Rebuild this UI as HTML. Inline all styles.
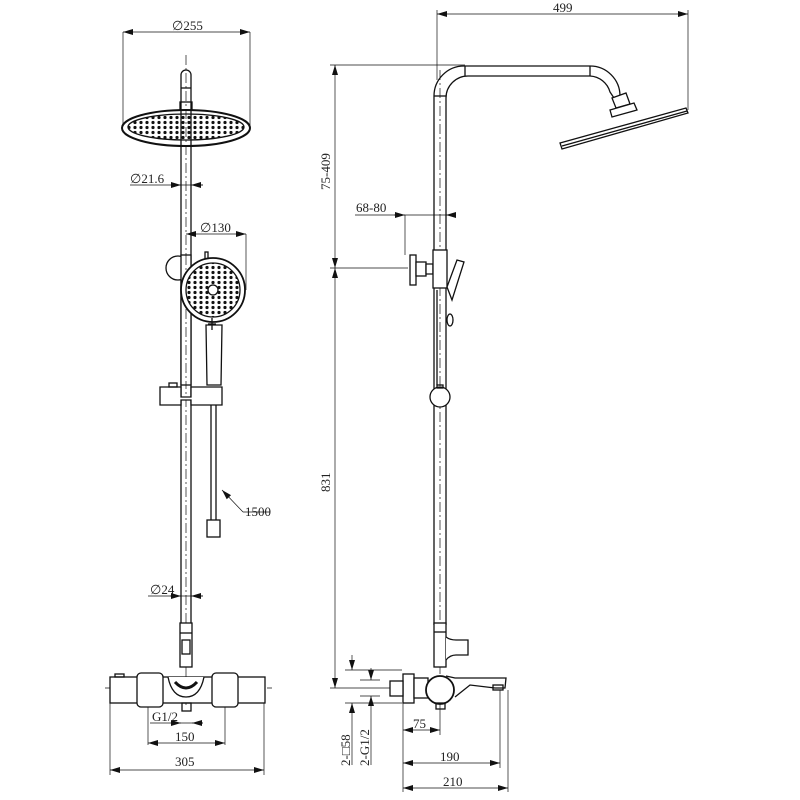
<!DOCTYPE html>
<html><head><meta charset="utf-8"><style>
html,body{margin:0;padding:0;background:#fff}
svg{display:block}
text{font-family:"Liberation Serif",serif;font-size:13px;fill:#222}
</style></head><body>
<svg width="800" height="800" viewBox="0 0 800 800" xmlns="http://www.w3.org/2000/svg">
<defs>
<marker id="a" viewBox="0 0 10 6" refX="10" refY="3" markerWidth="10" markerHeight="6" orient="auto-start-reverse" markerUnits="userSpaceOnUse"><path d="M0,0L10,3L0,6z" fill="#111"/></marker>
<pattern id="dots" width="6" height="5" patternUnits="userSpaceOnUse"><circle cx="3" cy="2.5" r="1.6" fill="#111"/></pattern>
</defs>
<g stroke="#111" fill="none" stroke-width="1.3">
<!-- LEFT VIEW -->
<g stroke-width="0.7">
<line x1="123" y1="32" x2="123" y2="125"/><line x1="250" y1="32" x2="250" y2="125"/>
<line x1="123" y1="32" x2="250" y2="32" marker-start="url(#a)" marker-end="url(#a)"/>
<line x1="130" y1="185" x2="203" y2="185"/>
<line x1="172" y1="185" x2="181" y2="185" marker-end="url(#a)"/><line x1="203" y1="185" x2="191" y2="185" marker-end="url(#a)"/>
<line x1="186" y1="234" x2="246" y2="234" marker-start="url(#a)" marker-end="url(#a)"/>
<line x1="246" y1="234" x2="246" y2="290"/>
<line x1="222" y1="490" x2="243" y2="512" marker-start="url(#a)"/><line x1="243" y1="512" x2="270" y2="512"/>
<line x1="148" y1="596" x2="203" y2="596"/>
<line x1="170" y1="596" x2="181" y2="596" marker-end="url(#a)"/><line x1="203" y1="596" x2="191" y2="596" marker-end="url(#a)"/>
<line x1="105" y1="688" x2="272" y2="688" stroke-dasharray="10,3,2,3"/>
<line x1="186" y1="55" x2="186" y2="705" stroke-dasharray="10,3,2,3"/>
<line x1="150" y1="723" x2="203" y2="723"/>
<line x1="172" y1="723" x2="181" y2="723" marker-end="url(#a)"/><line x1="203" y1="723" x2="192" y2="723" marker-end="url(#a)"/>
<line x1="148" y1="680" x2="148" y2="745"/><line x1="225" y1="680" x2="225" y2="745"/>
<line x1="148" y1="743" x2="225" y2="743" marker-start="url(#a)" marker-end="url(#a)"/>
<line x1="110" y1="700" x2="110" y2="775"/><line x1="264" y1="700" x2="264" y2="775"/>
<line x1="110" y1="770" x2="264" y2="770" marker-start="url(#a)" marker-end="url(#a)"/>
</g>
<path d="M181,625V75a5,5 0 0 1 10,0V625"/>
<line x1="181" y1="88" x2="191" y2="88"/>
<rect x="180" y="102" width="12" height="8"/>
<ellipse cx="186" cy="128" rx="64" ry="18" stroke-width="2"/>
<ellipse cx="186" cy="127" rx="58" ry="13" fill="url(#dots)"/>
<circle cx="178" cy="268" r="12" fill="#fff"/>
<rect x="181" y="255" width="10" height="130" fill="#fff"/>
<line x1="186" y1="255" x2="186" y2="385" stroke-width="0.7" stroke-dasharray="10,3,2,3"/>
<rect x="205" y="252" width="3" height="8"/>
<circle cx="213" cy="290" r="32" fill="#fff" stroke-width="1.8"/>
<circle cx="213" cy="290" r="27" fill="url(#dots)"/>
<circle cx="213" cy="290" r="5" fill="#fff"/>
<path d="M206,325L207,385H221L222,325Z" fill="#fff"/>
<line x1="212" y1="318" x2="212" y2="330"/><line x1="208" y1="324" x2="216" y2="324"/>
<path d="M160,387H181V397H191V387H222V405H191V400H181V405H160Z" fill="#fff"/>
<rect x="169" y="383" width="8" height="4"/>
<line x1="211" y1="405" x2="211" y2="520"/><line x1="216" y1="405" x2="216" y2="520"/>
<rect x="207" y="520" width="13" height="17"/>
<rect x="180" y="623" width="12" height="44" fill="#fff"/>
<line x1="180" y1="633" x2="192" y2="633"/><rect x="182" y="640" width="8" height="14"/>
<rect x="110" y="677" width="155" height="26" fill="#fff"/>
<rect x="137" y="673" width="26" height="34" rx="4" fill="#fff"/>
<rect x="212" y="673" width="26" height="34" rx="4" fill="#fff"/>
<path d="M168,677Q172,697 186,697Q200,697 204,677" fill="#fff"/>
<path d="M175,682Q186,694 197,682" stroke-width="3"/>
<rect x="182" y="703" width="9" height="8"/>
<rect x="115" y="674" width="9" height="3"/>
<!-- RIGHT VIEW -->
<g stroke-width="0.7">
<line x1="437" y1="10" x2="437" y2="80"/><line x1="688" y1="10" x2="688" y2="110"/>
<line x1="437" y1="14" x2="688" y2="14" marker-start="url(#a)" marker-end="url(#a)"/>
<line x1="330" y1="65" x2="465" y2="65"/>
<line x1="330" y1="268" x2="408" y2="268"/>
<line x1="330" y1="688" x2="432" y2="688"/>
<line x1="335" y1="65" x2="335" y2="268" marker-start="url(#a)" marker-end="url(#a)"/>
<line x1="335" y1="268" x2="335" y2="688" marker-start="url(#a)" marker-end="url(#a)"/>
<line x1="355" y1="215" x2="452" y2="215"/>
<line x1="394" y1="215" x2="405" y2="215" marker-end="url(#a)"/><line x1="455" y1="215" x2="446" y2="215" marker-end="url(#a)"/>
<line x1="405" y1="215" x2="405" y2="255"/>
<line x1="440" y1="70" x2="440" y2="690" stroke-dasharray="10,3,2,3"/>
<line x1="345" y1="670" x2="402" y2="670"/><line x1="345" y1="703" x2="402" y2="703"/>
<line x1="360" y1="680" x2="380" y2="680"/><line x1="360" y1="696" x2="380" y2="696"/>
<line x1="352" y1="655" x2="352" y2="670" marker-end="url(#a)"/><line x1="352" y1="765" x2="352" y2="703" marker-end="url(#a)"/>
<line x1="371" y1="668" x2="371" y2="680" marker-end="url(#a)"/><line x1="371" y1="765" x2="371" y2="696" marker-end="url(#a)"/>
<line x1="403" y1="700" x2="403" y2="792"/><line x1="440" y1="700" x2="440" y2="735"/>
<line x1="500" y1="690" x2="500" y2="768"/><line x1="508" y1="690" x2="508" y2="792"/>
<line x1="403" y1="730" x2="440" y2="730" marker-start="url(#a)" marker-end="url(#a)"/>
<line x1="403" y1="763" x2="500" y2="763" marker-start="url(#a)" marker-end="url(#a)"/>
<line x1="403" y1="788" x2="508" y2="788" marker-start="url(#a)" marker-end="url(#a)"/>
</g>
<path d="M434,625V96A30,30 0 0 1 464,66H590A30,30 0 0 1 620,96L625,100"/>
<path d="M446,625V98A22,22 0 0 1 468,76H590A22,22 0 0 1 610,92L614,98"/>
<line x1="434" y1="96" x2="446" y2="96"/><line x1="465" y1="66" x2="465" y2="76"/><line x1="590" y1="66" x2="590" y2="76"/>
<path d="M612,98L626,93L630,104L616,108Z" fill="#fff"/>
<path d="M610,110L634,103L637,110L612,117Z" fill="#fff"/>
<path d="M560,143L686,108L688,113L562,149Z" fill="#fff"/>
<line x1="562" y1="146" x2="687" y2="111"/>
<rect x="410" y="255" width="6" height="30" fill="#fff"/>
<rect x="416" y="262" width="10" height="14" fill="#fff"/>
<path d="M426,264H433V274H426Z" fill="#fff"/>
<rect x="433" y="250" width="14" height="38" fill="#fff"/>
<path d="M447,287L457,260L464,262L452,300Z" fill="#fff"/>
<ellipse cx="450" cy="320" rx="3" ry="6"/>
<line x1="437" y1="290" x2="437" y2="385"/>
<circle cx="440" cy="397" r="10" fill="#fff"/>
<rect x="437" y="385" width="6" height="3"/>
<rect x="434" y="623" width="12" height="44" fill="#fff"/>
<line x1="434" y1="632" x2="446" y2="632"/>
<path d="M446,637Q450,640 456,640H468V655H456Q450,655 446,660" fill="#fff"/>
<path d="M446,676L455,678H506L505,688H495L470,685L455,697" fill="#fff"/>
<rect x="493" y="685" width="10" height="5"/>
<rect x="403" y="674" width="11" height="29" fill="#fff"/>
<rect x="390" y="681" width="13" height="15" fill="#fff"/>
<rect x="414" y="678" width="14" height="20" fill="#fff"/>
<circle cx="440" cy="690" r="14" fill="#fff" stroke-width="1.8"/>
<rect x="436" y="703" width="9" height="6"/>
</g>
<!-- TEXT -->
<text x="172" y="30">∅255</text>
<text x="130" y="183">∅21.6</text>
<text x="200" y="232">∅130</text>
<text x="245" y="516">1500</text>
<text x="150" y="594">∅24</text>
<text x="152" y="721">G1/2</text>
<text x="175" y="741">150</text>
<text x="175" y="766">305</text>
<text x="553" y="12">499</text>
<text x="356" y="212">68-80</text>
<text transform="translate(330,190) rotate(-90)">75-409</text>
<text transform="translate(330,492) rotate(-90)">831</text>
<text transform="translate(350,766) rotate(-90)">2-□58</text>
<text transform="translate(369,766) rotate(-90)">2-G1/2</text>
<text x="413" y="728">75</text>
<text x="440" y="761">190</text>
<text x="443" y="786">210</text>
</svg>
</body></html>
